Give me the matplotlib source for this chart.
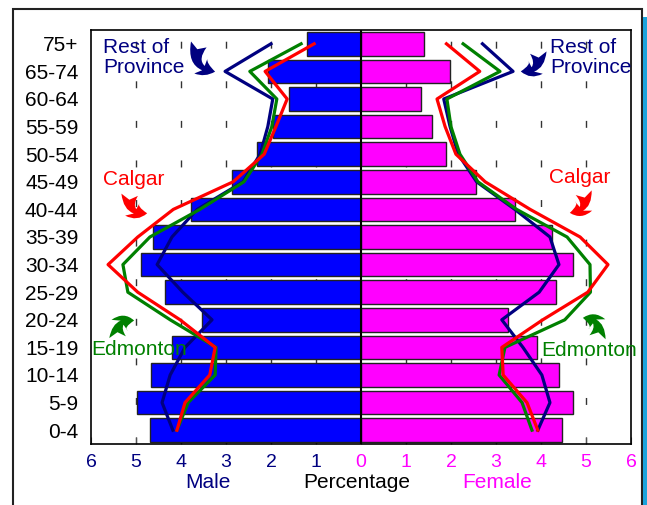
import matplotlib
matplotlib.use("Agg")
import matplotlib.pyplot as plt
from matplotlib.patches import FancyArrowPatch, Rectangle
import numpy as np

plt.rcParams['font.family'] = ['Liberation Sans', 'DejaVu Sans']

# age groups, bottom to top
ages = ['0-4', '5-9', '10-14', '15-19', '20-24', '25-29', '30-34', '35-39',
        '40-44', '45-49', '50-54', '55-59', '60-64', '65-74', '75+']

# Alberta-wide bars (percent)
male = [4.69, 4.98, 4.67, 4.2, 3.53, 4.36, 4.89, 4.62,
        3.78, 2.87, 2.3, 1.95, 1.6, 2.07, 1.2]
female = [4.47, 4.71, 4.4, 3.91, 3.27, 4.33, 4.71, 4.24,
          3.43, 2.56, 1.89, 1.57, 1.33, 1.98, 1.4]

# comparison lines (percent)
rest_m = [4.18, 4.42, 4.24, 3.91, 3.31, 3.96, 4.53, 4.2,
          3.64, 2.62, 2.24, 2.07, 1.96, 3.02, 2.0]
rest_f = [3.93, 4.2, 4.02, 3.6, 3.13, 3.96, 4.4, 4.2,
          3.42, 2.57, 2.16, 1.98, 1.84, 3.38, 2.7]
edm_m = [4.09, 3.84, 3.24, 3.22, 4.24, 5.18, 5.29, 4.69,
         3.58, 2.6, 2.2, 1.98, 1.87, 2.47, 1.33]
edm_f = [3.8, 3.58, 3.07, 3.2, 4.53, 5.1, 5.09, 4.58,
         3.46, 2.6, 2.2, 2.0, 1.91, 3.09, 2.27]
cal_m = [4.09, 3.91, 3.36, 3.24, 4.02, 4.96, 5.62, 4.96,
         4.17, 2.84, 2.15, 1.89, 1.64, 2.13, 1.04]
cal_f = [3.93, 3.69, 3.16, 3.13, 4.04, 5.04, 5.49, 4.87,
         3.76, 2.76, 2.11, 1.87, 1.69, 2.64, 1.9]

navy = '#000080'
green = '#008000'
red = '#ff0000'
magenta = '#ff00ff'

y = np.arange(len(ages))

fig = plt.figure(figsize=(6.47, 5.05), dpi=100)
ax = fig.add_axes([0.1406, 0.1208, 0.8346, 0.8198])

# dashed grid behind bars
for gx in [-5, -4, -3, -2, -1, 1, 2, 3, 4, 5]:
    ax.axvline(gx, color='#333333', lw=1, linestyle=(0, (5, 23.5)), zorder=0)

ax.barh(y, -np.array(male), height=0.85, color='#0000ff', edgecolor='#222222', lw=1, zorder=2)
ax.barh(y, female, height=0.85, color=magenta, edgecolor='#222222', lw=1, zorder=2)
ax.axvline(0, color='black', lw=1.5, zorder=3)

for m, f, c in [(rest_m, rest_f, navy), (edm_m, edm_f, green), (cal_m, cal_f, red)]:
    ax.plot(-np.array(m), y, color=c, lw=2.3, zorder=4)
    ax.plot(f, y, color=c, lw=2.3, zorder=4)

ax.set_xlim(-6, 6)
ax.set_ylim(-0.5, 14.5)
ax.set_yticks(y)
ax.set_yticklabels(ages, fontsize=15)
ax.tick_params(axis='y', length=0, pad=9)
ax.set_xticks(range(-6, 7))
ax.set_xticklabels([str(abs(v)) for v in range(-6, 7)], fontsize=14)
ax.tick_params(axis='x', direction='in', length=5, pad=7, color='#555555')
for lab, v in zip(ax.get_xticklabels(), range(-6, 7)):
    lab.set_color(navy if v < 0 else magenta)
for s in ax.spines.values():
    s.set_linewidth(1.2)

# labels and curved arrows
txt = dict(fontsize=15, va='center', ha='left', linespacing=1.05, zorder=6)
ax.text(-5.73, 13.5, 'Rest of\nProvince', color=navy, **txt)
ax.text(4.2, 13.5, 'Rest of\nProvince', color=navy, **txt)
ax.text(-5.73, 9.1, 'Calgar', color=red, **txt)
ax.text(4.18, 9.17, 'Calgar', color=red, **txt)
ax.text(-6.0, 2.91, 'Edmonton', color=green, **txt)
ax.text(4.0, 2.87, 'Edmonton', color=green, **txt)

arrows = [((-3.58, 14.07), (-3.18, 12.98), 0.7, navy),
          ((3.93, 13.78), (3.49, 13.01), -0.7, navy),
          ((-5.13, 8.63), (-4.69, 7.87), 0.7, red),
          ((4.93, 8.7), (4.58, 7.87), -0.7, red),
          ((-5.4, 3.27), (-4.98, 3.96), -0.7, green),
          ((5.24, 3.27), (4.87, 4.07), 0.7, green)]
for a, b, rad, c in arrows:
    ax.add_patch(FancyArrowPatch(a, b, connectionstyle='arc3,rad=%s' % rad,
                                 arrowstyle='fancy,head_length=0.55,head_width=0.7,tail_width=0.6',
                                 mutation_scale=20, color=c, lw=0, zorder=6))

fig.text(208 / 647, 1 - 482 / 505, 'Male', color=navy, fontsize=15, ha='center', va='center')
fig.text(357 / 647, 1 - 482 / 505, 'Percentage', color='black', fontsize=15, ha='center', va='center')
fig.text(497 / 647, 1 - 482 / 505, 'Female', color=magenta, fontsize=15, ha='center', va='center')

# outer frame and side stripe
fig.patches.append(Rectangle((13 / 647, -0.05), 629 / 647, 1.05 - 9 / 505, transform=fig.transFigure,
                             fill=False, edgecolor='#222222', lw=1.5))
fig.patches.append(Rectangle((643 / 647, -0.05), 4 / 647, 1.05 - 17 / 505, transform=fig.transFigure,
                             color='#1aa3dc', lw=0))

fig.savefig('out.png', dpi=100)
